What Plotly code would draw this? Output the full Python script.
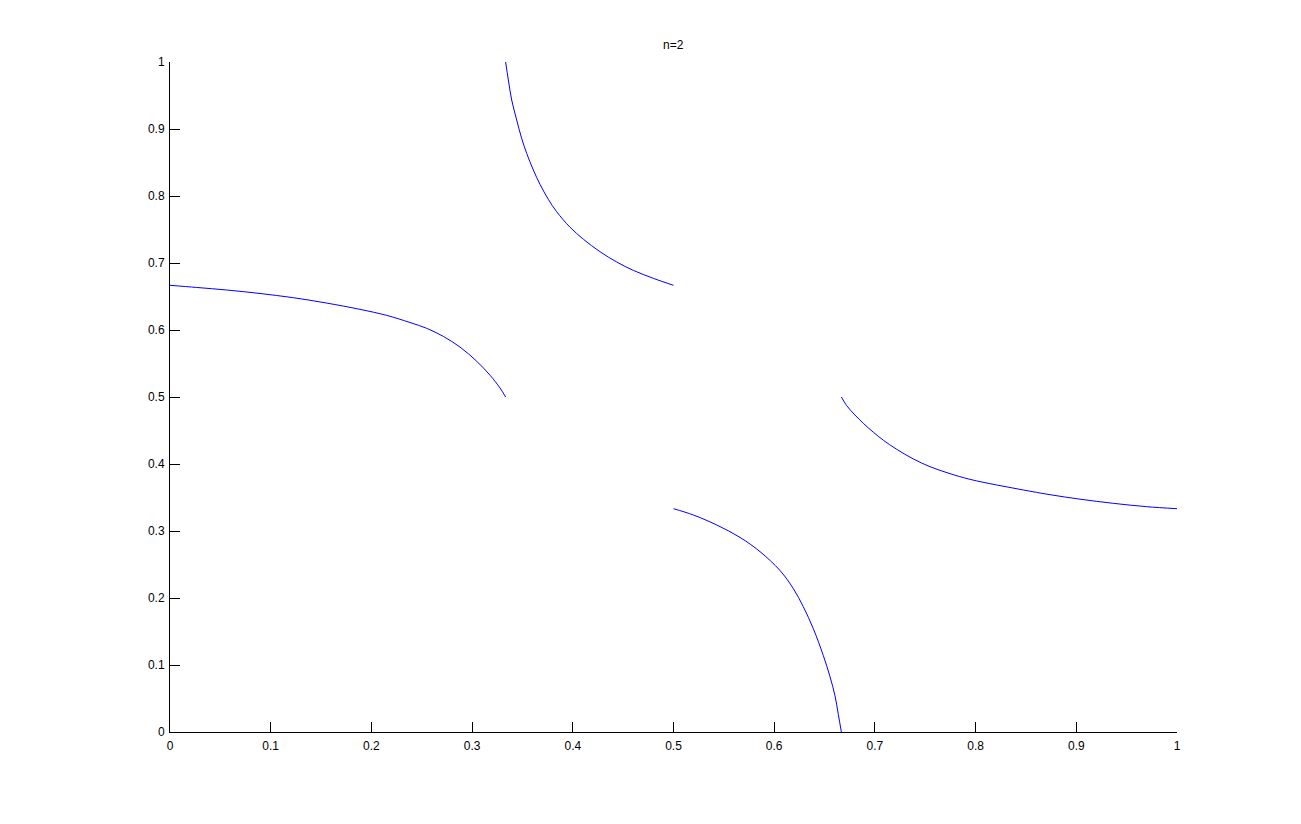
import plotly.graph_objects as go

# Segment data
seg1_x = [0.0, 0.0265, 0.0563, 0.0894, 0.1225, 0.1556, 0.1887, 0.2152, 0.2383, 0.2549,
          0.2714, 0.288, 0.3045, 0.3178, 0.3277, 0.3333]
seg1_y = [0.6667, 0.6635, 0.6597, 0.6545, 0.6482, 0.6402, 0.6308, 0.6218, 0.6112, 0.6025,
          0.5905, 0.5745, 0.5535, 0.5325, 0.5135, 0.5]

seg2_x = [0.3333, 0.336, 0.3393, 0.3443, 0.3492, 0.3542, 0.3608, 0.3674, 0.3757, 0.384,
          0.3972, 0.4105, 0.427, 0.4436, 0.4601, 0.48, 0.5]
seg2_y = [1.0, 0.9731, 0.9433, 0.9134, 0.8861, 0.8637, 0.8388, 0.8175, 0.7950, 0.7765,
          0.7535, 0.7355, 0.7169, 0.7015, 0.6890, 0.6771, 0.6667]

seg3_x = [0.5, 0.5197, 0.5429, 0.566, 0.5859, 0.6058, 0.619, 0.6289, 0.6389, 0.6488,
          0.6554, 0.6604, 0.6637, 0.6667]
seg3_y = [0.3333, 0.3239, 0.309, 0.2905, 0.2692, 0.2410, 0.2140, 0.1870, 0.1540, 0.1140,
          0.0826, 0.0540, 0.0260, 0.0]

seg4_x = [0.6667, 0.672, 0.6802, 0.6885, 0.6984, 0.7084, 0.7216, 0.7382, 0.7547, 0.7746,
          0.7944, 0.8209, 0.8474, 0.8739, 0.9037, 0.9368, 0.9699, 1.0]
seg4_y = [0.5, 0.4871, 0.4731, 0.4607, 0.4475, 0.4355, 0.4220, 0.4075, 0.3960, 0.3856,
          0.3771, 0.3687, 0.3612, 0.3542, 0.3475, 0.3413, 0.3363, 0.3333]

tick_vals = [0, 0.1, 0.2, 0.3, 0.4, 0.5, 0.6, 0.7, 0.8, 0.9, 1]
tick_text = ["0", "0.1", "0.2", "0.3", "0.4", "0.5", "0.6", "0.7", "0.8", "0.9", "1"]
title_text = "n=2"

fig = go.Figure()
for xs, ys in [(seg1_x, seg1_y), (seg2_x, seg2_y), (seg3_x, seg3_y), (seg4_x, seg4_y)]:
    fig.add_trace(go.Scatter(x=xs, y=ys, mode="lines",
                             line=dict(color="#0000ff", width=1, shape="spline", smoothing=1.0),
                             showlegend=False, hoverinfo="skip"))

axis_common = dict(
    range=[0, 1], tickvals=tick_vals, ticktext=tick_text,
    showgrid=False, zeroline=False, showline=True, linecolor="black", linewidth=1,
    ticks="inside", ticklen=10, tickcolor="black", tickwidth=1,
    tickfont=dict(family="Liberation Sans, Arial", size=12, color="black"),
    fixedrange=True,
)
# page body has an 8px margin, so the figure is offset by 8px
fig.update_layout(
    width=1293, height=816,
    margin=dict(l=162, r=124, t=54, b=92),
    paper_bgcolor="white", plot_bgcolor="white",
    xaxis=dict(**axis_common, ticklabelstandoff=3),
    yaxis=dict(**axis_common, ticklabelstandoff=2),
    annotations=[dict(text=title_text, x=0.5, y=1, xref="paper", yref="paper",
                      xanchor="center", yanchor="bottom", yshift=8, showarrow=False,
                      font=dict(family="Liberation Sans, Arial", size=12, color="black"))],
)
fig.write_html("out.html")
